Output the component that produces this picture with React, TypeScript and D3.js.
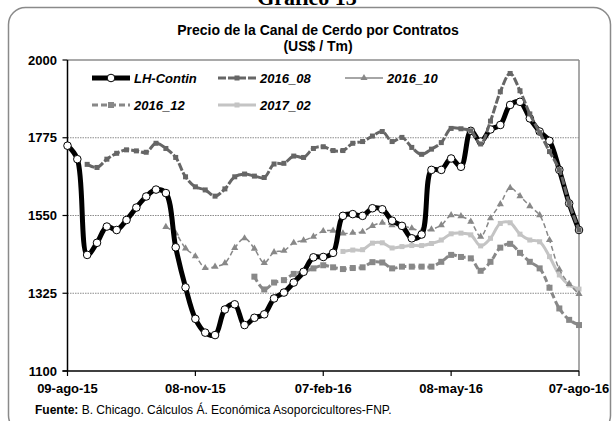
import React from "react";
import * as d3 from "d3";

const tickLabels = ["09-ago-15", "08-nov-15", "07-feb-16", "08-may-16", "07-ago-16"];
const tickWeeks = [0, 13, 26, 39, 52];
const yTicks = [1100, 1325, 1550, 1775, 2000];

const lhContin = [
  1752, 1713, 1436, 1471, 1518, 1508, 1537, 1573, 1605, 1625, 1615, 1458, 1342,
  1251, 1211, 1204, 1278, 1293, 1233, 1254, 1264, 1310, 1327, 1356, 1387, 1429,
  1430, 1442, 1549, 1554, 1549, 1571, 1568, 1535, 1520, 1484, 1495, 1682, 1682,
  1715, 1691, 1795, 1764, 1799, 1812, 1870, 1879, 1831, 1793, 1766, 1682, 1585, 1508,
];
const start2016_08 = 2;
const s2016_08 = [
  1698, 1689, 1713, 1730, 1740, 1737, 1733, 1759, 1744, 1718, 1662,
  1633, 1624, 1606, 1627, 1662, 1670, 1664, 1660, 1699, 1701, 1722, 1718, 1744,
  1749, 1738, 1738, 1759, 1764, 1780, 1793, 1764, 1776, 1747, 1727, 1742, 1761,
  1802, 1801, 1795, 1757, 1823, 1908, 1961, 1911, 1844, 1790, 1735, 1682, 1585, 1508,
];
const start2016_10 = 10;
const s2016_10 = [
  1517, 1498, 1455,
  1432, 1398, 1402, 1412, 1456, 1484, 1454, 1413, 1444, 1448, 1471, 1478, 1489,
  1505, 1506, 1498, 1500, 1503, 1520, 1529, 1522, 1520, 1513, 1505, 1510, 1522,
  1551, 1548, 1532, 1489, 1542, 1583, 1630, 1606, 1577, 1551, 1479, 1394, 1352, 1323,
];
const start2016_12 = 19;
const s2016_12 = [
  1373, 1336, 1356, 1363, 1381, 1387, 1397,
  1406, 1400, 1395, 1398, 1400, 1415, 1414, 1397, 1402, 1402, 1402, 1402, 1416,
  1436, 1430, 1426, 1390, 1416, 1457, 1468, 1442, 1416, 1397, 1341, 1281, 1248, 1233,
];
const start2017_02 = 28;
const s2017_02 = [
  1446, 1450, 1451, 1470, 1471, 1456, 1460, 1463, 1463, 1469, 1479,
  1497, 1499, 1494, 1462, 1484, 1527, 1529, 1496, 1479, 1474, 1431, 1378, 1349, 1337,
];

const FONT = "'Liberation Sans', Arial, sans-serif";
const X0 = 67.5, X1 = 579, Y0 = 371, Y1 = 60;

type Pt = { w: number; v: number };
const toPts = (vals: number[], start: number): Pt[] => vals.map((v, i) => ({ w: start + i, v }));

export default function App() {
  const x = d3.scaleLinear().domain([0, 52]).range([X0, X1]);
  const y = d3.scaleLinear().domain([1100, 2000]).range([Y0, Y1]);
  const line = d3.line<Pt>().x((d) => x(d.w)).y((d) => y(d.v)).curve(d3.curveCatmullRom.alpha(0.5));

  const pLH = toPts(lhContin, 0);
  const p08 = toPts(s2016_08, start2016_08);
  const p10 = toPts(s2016_10, start2016_10);
  const p12 = toPts(s2016_12, start2016_12);
  const p02 = toPts(s2017_02, start2017_02);

  const tri = d3.symbol().type(d3.symbolTriangle).size(22)();

  const legendItem = (lx: number, ly: number, label: string, kind: string) => {
    const x1 = lx, x2 = lx + 38, cx = lx + 19;
    let sym: React.ReactNode = null;
    if (kind === "lh") {
      sym = (
        <g>
          <line x1={x1} x2={x2} y1={ly} y2={ly} stroke="#000" strokeWidth={5} />
          <circle cx={cx} cy={ly} r={3.8} fill="#fff" stroke="#000" strokeWidth={1} />
        </g>
      );
    } else if (kind === "08") {
      sym = (
        <g>
          <line x1={x1} x2={x2} y1={ly} y2={ly} stroke="#666" strokeWidth={3} strokeDasharray="8,2" />
          <rect x={cx - 2.5} y={ly - 2.5} width={5} height={5} fill="#666" />
        </g>
      );
    } else if (kind === "10") {
      sym = (
        <g>
          <line x1={x1} x2={x2} y1={ly} y2={ly} stroke="#888" strokeWidth={1.5} />
          <path d={tri!} transform={`translate(${cx},${ly})`} fill="#888" />
        </g>
      );
    } else if (kind === "12") {
      sym = (
        <g>
          <line x1={x1} x2={x2} y1={ly} y2={ly} stroke="#888" strokeWidth={3} strokeDasharray="6,3" />
          <rect x={cx - 3} y={ly - 3} width={6} height={6} fill="#888" />
        </g>
      );
    } else {
      sym = (
        <g>
          <line x1={x1} x2={x2} y1={ly} y2={ly} stroke="#c4c4c4" strokeWidth={3} />
          <rect x={cx - 2.5} y={ly - 2.5} width={5} height={5} fill="#c4c4c4" />
        </g>
      );
    }
    return (
      <g key={label}>
        {sym}
        <text x={x2 + 4} y={ly + 4.5} fontFamily={FONT} fontSize={13} fontWeight="bold" fontStyle="italic" fill="#000">
          {label}
        </text>
      </g>
    );
  };

  return (
    <svg width={613} height={421} style={{ position: "absolute", left: 0, top: 0, background: "#fff" }}>
      <rect x={0} y={0} width={613} height={421} fill="#fff" />
      <text x={307} y={5} textAnchor="middle" fontFamily="'Liberation Serif', 'Times New Roman', serif" fontWeight="bold" fontSize={22}>
        Gráfico 13
      </text>
      <rect x={8.5} y={7.5} width={602} height={425} rx={17} ry={17} fill="none" stroke="#8a8a8a" strokeWidth={1.5} />

      <text x={318} y={35} textAnchor="middle" fontFamily={FONT} fontWeight="bold" fontSize={14}>
        Precio de la Canal de Cerdo por Contratos
      </text>
      <text x={318} y={51} textAnchor="middle" fontFamily={FONT} fontWeight="bold" fontSize={14}>
        (US$ / Tm)
      </text>

      {/* gridlines */}
      {yTicks.filter((t) => t !== 1100 && t !== 2000).map((t) => (
        <line key={t} x1={X0} x2={X1} y1={y(t)} y2={y(t)} stroke="#8c8c8c" strokeWidth={1} strokeDasharray="1.5,1" />
      ))}
      {/* plot border top/right */}
      <line x1={X0} x2={X1} y1={Y1} y2={Y1} stroke="#8c8c8c" strokeWidth={1.5} />
      <line x1={X1} x2={X1} y1={Y1} y2={Y0} stroke="#8c8c8c" strokeWidth={1.5} />
      {/* axes */}
      <line x1={X0} x2={X0} y1={Y1} y2={Y0} stroke="#000" strokeWidth={1.5} />
      <line x1={X0 - 5} x2={X1} y1={Y0} y2={Y0} stroke="#000" strokeWidth={1.5} />
      {yTicks.map((t) => (
        <g key={t}>
          <line x1={X0 - 5} x2={X0} y1={y(t)} y2={y(t)} stroke="#000" strokeWidth={1.2} />
          <text x={57} y={y(t) + 4.5} textAnchor="end" fontFamily={FONT} fontWeight="bold" fontSize={13}>
            {t}
          </text>
        </g>
      ))}
      {tickWeeks.map((w, i) => (
        <g key={w}>
          <line x1={x(w)} x2={x(w)} y1={Y0} y2={Y0 + 5} stroke="#000" strokeWidth={1.2} />
          <text x={x(w)} y={393} textAnchor="middle" fontFamily={FONT} fontWeight="bold" fontSize={13}>
            {tickLabels[i]}
          </text>
        </g>
      ))}

      {/* series */}
      <path d={line(p12)!} fill="none" stroke="#888" strokeWidth={3} strokeDasharray="6,3" />
      {p12.map((d) => (
        <rect key={d.w} x={x(d.w) - 3} y={y(d.v) - 3} width={6} height={6} fill="#888" />
      ))}
      <path d={line(p02)!} fill="none" stroke="#c4c4c4" strokeWidth={3} />
      {p02.map((d) => (
        <rect key={d.w} x={x(d.w) - 2.5} y={y(d.v) - 2.5} width={5} height={5} fill="#c4c4c4" />
      ))}
      <path d={line(p10)!} fill="none" stroke="#888" strokeWidth={1.5} strokeDasharray="5,3" />
      {p10.map((d) => (
        <path key={d.w} d={tri!} transform={`translate(${x(d.w)},${y(d.v)})`} fill="#888" />
      ))}
      <path d={line(pLH)!} fill="none" stroke="#000" strokeWidth={5} />
      {pLH.map((d) => (
        <circle key={d.w} cx={x(d.w)} cy={y(d.v)} r={3.8} fill="#fff" stroke="#000" strokeWidth={1} />
      ))}
      <path d={line(p08)!} fill="none" stroke="#666" strokeWidth={3} strokeDasharray="8,2" />
      {p08.map((d) => (
        <rect key={d.w} x={x(d.w) - 2.5} y={y(d.v) - 2.5} width={5} height={5} fill="#666" />
      ))}

      {/* legend */}
      {legendItem(92, 78, "LH-Contin", "lh")}
      {legendItem(218, 78, "2016_08", "08")}
      {legendItem(345, 78, "2016_10", "10")}
      {legendItem(92, 105, "2016_12", "12")}
      {legendItem(218, 105, "2017_02", "02")}

      <text x={35} y={414} fontFamily={FONT} fontSize={12}>
        <tspan fontWeight="bold">Fuente:</tspan> B. Chicago. Cálculos Á. Económica Asoporcicultores-FNP.
      </text>
    </svg>
  );
}
